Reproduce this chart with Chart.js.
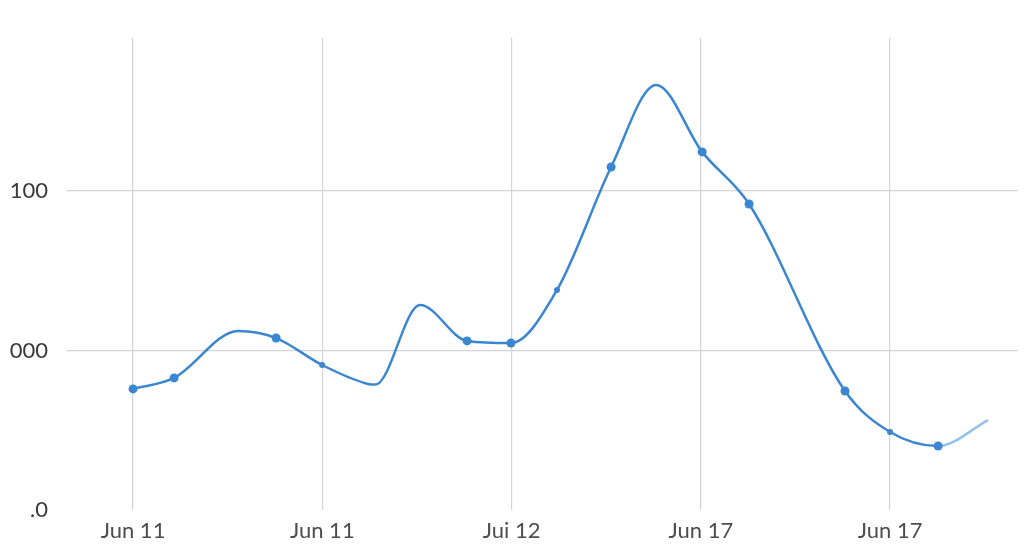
<!DOCTYPE html>
<html>
<head>
<meta charset="utf-8">
<script src="https://cdn.jsdelivr.net/npm/chart.js@4/dist/chart.umd.min.js"></script>
<style>
  html, body { margin: 0; padding: 0; background: #fff; }
  #wrap { width: 1024px; height: 552px; }
</style>
</head>
<body>
<div id="wrap"><canvas id="chart"></canvas></div>
<script>
// data (x in days from first tick, y in axis units)
const xValues = [0, 0.217, 0.555, 0.756, 0.999, 1.242, 1.280, 1.516, 1.765, 1.997, 2.240, 2.526, 2.764, 3.007, 3.255, 3.762, 4.000, 4.254, 4.518];
const yValues = [0.759, 0.828, 1.122, 1.078, 0.909, 0.790, 0.786, 1.285, 1.060, 1.047, 1.379, 2.150, 2.665, 2.245, 1.918, 0.746, 0.489, 0.401, 0.564];

const xTickValues = [0, 1, 2, 3, 4];
const xTickLabels = ["Jun 11", "Jun 11", "Jui 12", "Jun 17", "Jun 17"];
const yTickValues = [0, 1, 2];
const yTickLabels = [".0", "000", "100"];

// which points get a dot
const bigDots = [0, 1, 3, 8, 9, 11, 13, 14, 15, 17];
const smallDots = [4, 10, 16];

const lineColor = "#3a86d1";
const tailColor = "#93c3ec";

const ctx = document.getElementById("chart").getContext("2d");
new Chart(ctx, {
  type: "line",
  data: {
    datasets: [{
      data: xValues.map((x, i) => ({ x: x, y: yValues[i] })),
      borderColor: lineColor,
      backgroundColor: lineColor,
      borderWidth: 2.5,
      cubicInterpolationMode: "monotone",
      pointRadius: c => bigDots.includes(c.dataIndex) ? 4.5 : (smallDots.includes(c.dataIndex) ? 3 : 0),
      pointBorderWidth: 0,
      segment: {
        borderColor: c => c.p0DataIndex >= xValues.length - 2 ? tailColor : undefined
      }
    }]
  },
  options: {
    responsive: true,
    maintainAspectRatio: false,
    animation: false,
    layout: { padding: { top: 38, right: 6, left: 0, bottom: 0 } },
    plugins: { legend: { display: false }, tooltip: { enabled: false } },
    scales: {
      x: {
        type: "linear",
        min: -0.349,
        max: 4.676,
        afterBuildTicks: s => { s.ticks = xTickValues.map(v => ({ value: v })); },
        afterFit: s => { s.height = 42; },
        border: { display: false },
        grid: { color: "#d4d4d4", lineWidth: 1.2, drawTicks: false },
        ticks: {
          padding: 8,
          maxRotation: 0,
          autoSkip: false,
          color: "#4d4d4d",
          font: { family: "Lato", size: 22 },
          callback: v => xTickLabels[xTickValues.indexOf(v)]
        }
      },
      y: {
        min: 0,
        max: 2.959,
        afterBuildTicks: s => { s.ticks = yTickValues.map(v => ({ value: v })); },
        afterFit: s => { s.width = 67; },
        border: { display: false },
        grid: {
          color: c => c.tick && c.tick.value === 0 ? "rgba(0,0,0,0)" : "#d4d4d4",
          lineWidth: 1.2,
          drawTicks: false
        },
        ticks: {
          padding: 19,
          color: "#3a3a3a",
          font: { family: "Lato", size: 22 },
          callback: v => yTickLabels[yTickValues.indexOf(v)]
        }
      }
    }
  }
});
</script>
</body>
</html>
